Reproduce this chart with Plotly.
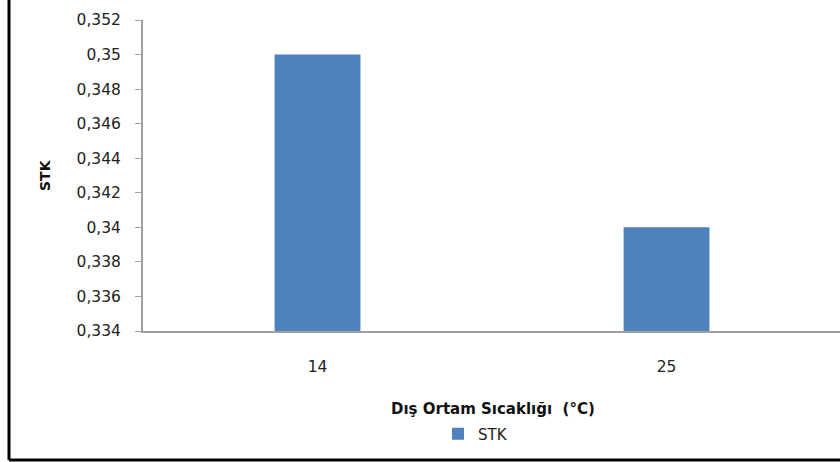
import plotly.graph_objects as go

categories = ["14", "25"]
stk_values = [0.350, 0.340]
y_tickvals = [0.334, 0.336, 0.338, 0.340, 0.342, 0.344, 0.346, 0.348, 0.350, 0.352]
y_ticktext = ["0,334", "0,336", "0,338", "0,34", "0,342", "0,344", "0,346", "0,348", "0,35", "0,352"]

W, H = 840, 462
L, R, T, B = 143, 0, 20, 131
pw, ph = W - L - R, H - T - B

def px_x(p):
    return (p - L) / pw

def px_y(p):
    return (H - B - p) / ph

font_fam = "DejaVu Sans, Verdana, sans-serif"

fig = go.Figure()
fig.add_trace(go.Bar(
    x=categories, y=stk_values, name="STK",
    marker=dict(color="#4F81BD", line=dict(width=0)),
    width=0.246,
))

fig.update_layout(
    width=W, height=H,
    margin=dict(l=L, r=R, t=T, b=B, pad=0),
    paper_bgcolor="white", plot_bgcolor="white",
    font=dict(family=font_fam, size=15, color="#222222"),
    showlegend=True,
    legend=dict(orientation="h", x=px_x(438), xanchor="left", y=px_y(434), yanchor="middle",
                font=dict(size=15, color="#222222"), itemwidth=30),
    xaxis=dict(
        type="category", range=[-0.5, 1.497],
        showline=True, linecolor="#A0A0A0", linewidth=2,
        showgrid=False, ticks="", ticklabelstandoff=20,
        tickfont=dict(size=15.5, color="#222222"),
    ),
    yaxis=dict(
        range=[0.334, 0.352], tickvals=y_tickvals, ticktext=y_ticktext,
        showline=True, linecolor="#A0A0A0", linewidth=2,
        showgrid=False, zeroline=False,
        ticks="outside", ticklen=6, tickcolor="#A0A0A0", tickwidth=1,
        ticklabelstandoff=11,
        tickfont=dict(size=15.5, color="#222222"),
    ),
    annotations=[
        dict(text="<b>STK</b>", xref="paper", yref="paper", x=px_x(45), y=px_y(175),
             textangle=-90, showarrow=False, font=dict(size=14, color="#111111"),
             xanchor="center", yanchor="middle"),
        dict(text="<b>Dış Ortam Sıcaklığı  (°C)</b>", xref="paper", yref="paper",
             x=px_x(493), y=px_y(409), showarrow=False, font=dict(size=15, color="#111111"),
             xanchor="center", yanchor="middle"),
    ],
    shapes=[
        dict(type="line", xref="paper", yref="paper", x0=px_x(9), x1=px_x(9),
             y0=px_y(-5), y1=px_y(460), line=dict(color="black", width=3)),
        dict(type="line", xref="paper", yref="paper", x0=px_x(9), x1=px_x(845),
             y0=px_y(460), y1=px_y(460), line=dict(color="black", width=3)),
    ],
)

fig.write_html("out.html")
